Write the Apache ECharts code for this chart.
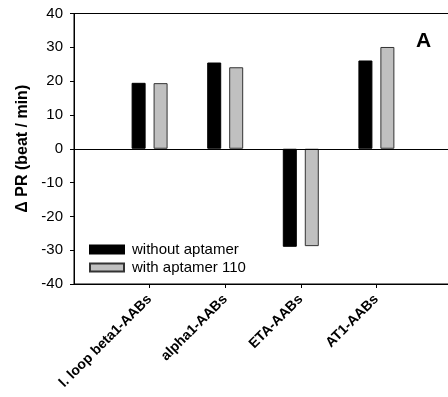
<!DOCTYPE html>
<html><head><meta charset="utf-8">
<script src="https://cdn.jsdelivr.net/npm/echarts@6/dist/echarts.min.js"></script>
<style>html,body{margin:0;padding:0;background:#fff}#c{width:448px;height:397px}</style>
</head><body><div id="c"></div>
<script>
var categories = ['', 'l. loop beta1-AABs', 'alpha1-AABs', 'ETA-AABs', 'AT1-AABs', ''];
var withoutAptamer = [null, 19.5, 25.5, -29.0, 26.1, null];
var withAptamer110 = [null, 19.4, 24.1, -28.8, 30.1, null];
var yTicks = [-40, -30, -20, -10, 0, 10, 20, 30, 40];

var chart = echarts.init(document.getElementById('c'), null, {renderer: 'canvas'});
var font = 'Liberation Sans, Arial, sans-serif';
chart.setOption({
  animation: false,
  backgroundColor: '#fff',
  grid: {left: 74, right: -4, top: 13.5, bottom: 113, show: true, borderColor: '#000', borderWidth: 1, containLabel: false, outerBoundsMode: 'none'},
  legend: {
    orient: 'vertical', left: 89, top: 242, padding: 0, itemWidth: 34, itemHeight: 8, itemGap: 3,
    textStyle: {fontFamily: font, fontSize: 15, color: '#000', padding: [0, 0, 0, 3]},
    data: [{name: 'without aptamer', icon: 'rect'}, {name: 'with aptamer 110', icon: 'rect'}]
  },
  xAxis: {
    type: 'category', data: categories, boundaryGap: false,
    axisLine: {onZero: false, lineStyle: {color: '#000', width: 1}},
    axisTick: {length: 4, interval: function (i) { return i > 0 && i < categories.length - 1; }, lineStyle: {color: '#000'}},
    axisLabel: {rotate: 45, interval: 0, margin: 13, fontFamily: font, fontSize: 14, fontWeight: 'bold', color: '#000'}
  },
  yAxis: {
    type: 'value', min: yTicks[0], max: yTicks[yTicks.length - 1], interval: 10,
    name: 'Δ PR (beat / min)', nameLocation: 'middle', nameGap: 41,
    nameTextStyle: {fontFamily: font, fontSize: 16, fontWeight: 'bold', color: '#000'},
    axisLine: {show: true, lineStyle: {color: '#000'}},
    axisTick: {show: true, length: 4, lineStyle: {color: '#000'}},
    axisLabel: {fontFamily: font, fontSize: 15, color: '#000', margin: 11},
    splitLine: {show: false}
  },
  graphic: [{type: 'text', left: 416, top: 31, style: {text: 'A', font: 'bold 21px ' + font, fill: '#000'}}],
  series: [
    {name: 'without aptamer', type: 'bar', data: withoutAptamer, barWidth: 14, barGap: '57%',
     itemStyle: {color: '#000', borderColor: '#000', borderWidth: 1},
     markLine: {silent: true, symbol: 'none', label: {show: false}, lineStyle: {color: '#000', width: 1, type: 'solid'}, data: [{yAxis: 0}]}},
    {name: 'with aptamer 110', type: 'bar', data: withAptamer110, barWidth: 14,
     itemStyle: {color: '#c0c0c0', borderColor: '#333', borderWidth: 1}}
  ]
});
</script></body></html>
